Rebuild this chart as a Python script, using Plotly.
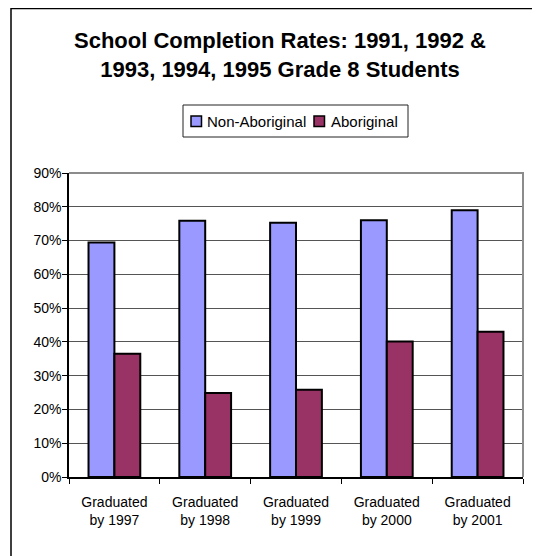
import plotly.graph_objects as go

categories = ['Graduated by 1997', 'Graduated by 1998', 'Graduated by 1999',
              'Graduated by 2000', 'Graduated by 2001']
tick_labels = ['Graduated<br>by 1997', 'Graduated<br>by 1998', 'Graduated<br>by 1999',
               'Graduated<br>by 2000', 'Graduated<br>by 2001']
series_names = ['Non-Aboriginal', 'Aboriginal']
series_colors = ['#9999ff', '#993366']
non_aboriginal = [0.694, 0.759, 0.753, 0.760, 0.790]
aboriginal = [0.365, 0.249, 0.258, 0.401, 0.430]

FONT = 'Liberation Sans, Arial, sans-serif'

# plot area in figure pixels (page is offset by the 8px body margin)
L, T, W, H = 61, 165, 454, 304


def px_to_paper(x=None, y=None):
    # figure pixel -> paper coordinate
    if x is not None:
        return (x - L) / W
    return (T + H - y) / H


def plot_completion_rates(savepath: str = 'out.html'):
    fig = go.Figure()

    for name, values, color in zip(series_names, [non_aboriginal, aboriginal], series_colors):
        fig.add_trace(go.Bar(x=categories, y=values, name=name, showlegend=False,
                             marker=dict(color=color, line=dict(color='black', width=2))))

    fig.update_layout(
        width=540, height=556,
        margin=dict(l=L, r=540 - L - W, t=T, b=556 - T - H),
        paper_bgcolor='white', plot_bgcolor='white',
        font=dict(family=FONT, size=14, color='black'),
        barmode='group', bargap=0.43, bargroupgap=0,
        title=dict(text='<b>School Completion Rates: 1991, 1992 &<br>1993, 1994, 1995 Grade 8 Students</b>',
                   font=dict(family=FONT, size=22, color='black'),
                   x=272 / 540, xanchor='center', y=0.928, yanchor='top'),
    )

    fig.update_xaxes(type='category', tickvals=categories, ticktext=tick_labels,
                     showline=True, linewidth=1.5, linecolor='black',
                     ticks='outside', tickson='boundaries', ticklen=5, tickcolor='black',
                     ticklabelstandoff=11,
                     showgrid=False, tickfont=dict(family=FONT, size=14, color='black'))
    fig.update_yaxes(range=[0, 0.9], dtick=0.1, tickformat='.0%',
                     showline=True, linewidth=1.5, linecolor='black',
                     ticks='outside', ticklen=5, tickcolor='black', ticklabelstandoff=-2,
                     showgrid=True, gridcolor='#555555', gridwidth=1, zeroline=False,
                     tickfont=dict(family=FONT, size=14, color='black'))

    # gray top/right edges of plot area
    fig.add_shape(type='path', path='M 0,1 L 1,1 L 1,0', xref='paper', yref='paper',
                  line=dict(color='#8c8c8c', width=2), layer='above')
    # outer chart border (runs off right/bottom)
    fig.add_shape(type='rect', xref='paper', yref='paper',
                  x0=px_to_paper(x=3), x1=px_to_paper(x=560),
                  y0=px_to_paper(y=580), y1=px_to_paper(y=0.5),
                  line=dict(color='black', width=1.5), fillcolor='rgba(0,0,0,0)')

    # legend box drawn by hand to match the compact original
    fig.add_shape(type='rect', xref='paper', yref='paper',
                  x0=px_to_paper(x=175), x1=px_to_paper(x=400),
                  y0=px_to_paper(y=129), y1=px_to_paper(y=97),
                  line=dict(color='#222222', width=1), fillcolor='white')
    for sq_x, text_x, name, color in zip([183, 306], [197, 321], series_names, series_colors):
        fig.add_shape(type='rect', xref='paper', yref='paper',
                      x0=px_to_paper(x=sq_x), x1=px_to_paper(x=sq_x + 10.5),
                      y0=px_to_paper(y=118.5), y1=px_to_paper(y=108),
                      line=dict(color='black', width=1.5), fillcolor=color)
        fig.add_annotation(text=name, xref='paper', yref='paper',
                           x=px_to_paper(x=text_x), y=px_to_paper(y=113.5),
                           xanchor='left', yanchor='middle', showarrow=False,
                           font=dict(family=FONT, size=15, color='black'))

    fig.write_html(savepath)
    return fig


plot_completion_rates('out.html')
